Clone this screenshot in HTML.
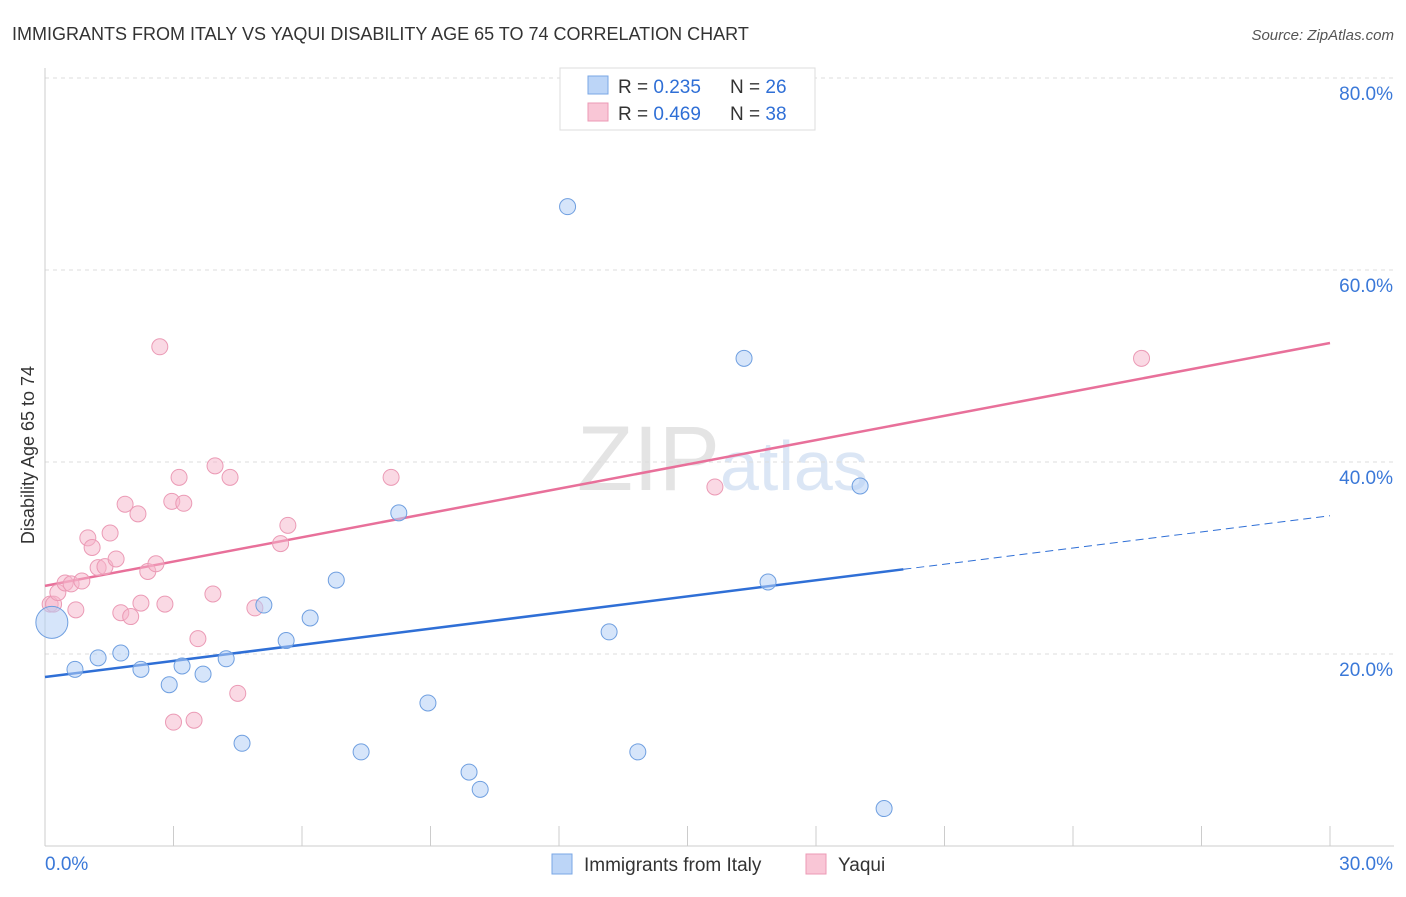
<!DOCTYPE html>
<html><head><meta charset="utf-8"><style>
body{margin:0;background:#fff;font-family:"Liberation Sans",sans-serif}
svg text{font-family:"Liberation Sans",sans-serif}
</style></head><body>
<svg width="1406" height="892" id="chart">
<text x="12" y="40" font-size="18" fill="#333">IMMIGRANTS FROM ITALY VS YAQUI DISABILITY AGE 65 TO 74 CORRELATION CHART</text>
<text x="1394" y="40" font-size="15" fill="#555" font-style="italic" text-anchor="end">Source: ZipAtlas.com</text>
<text x="720" y="490" font-size="92" fill="#e4e4e4" text-anchor="end" font-family="Liberation Serif">ZIP</text>
<text x="720" y="490" font-size="70" fill="#dbe6f5">atlas</text>
<text transform="translate(34,455) rotate(-90)" font-size="18" fill="#333" text-anchor="middle">Disability Age 65 to 74</text>
<g id="grid"></g><g id="ticks"></g><g id="lines"></g><g id="pts"></g>
<g>
<rect x="560" y="68" width="255" height="62" fill="#fff" stroke="#ddd"/>
<rect x="588" y="76" width="20" height="18" fill="#bcd5f7" stroke="#7aa7e6"/>
<rect x="588" y="103" width="20" height="18" fill="#f9c6d6" stroke="#ec9ab5"/>
<text x="618" y="93" font-size="19" fill="#333">R = <tspan fill="#2f6fd6">0.235</tspan><tspan x="730">N = </tspan><tspan fill="#2f6fd6">26</tspan></text>
<text x="618" y="120" font-size="19" fill="#333">R = <tspan fill="#2f6fd6">0.469</tspan><tspan x="730">N = </tspan><tspan fill="#2f6fd6">38</tspan></text>
</g>
<g>
<rect x="552" y="854" width="20" height="20" fill="#bcd5f7" stroke="#7aa7e6"/>
<text x="584" y="871" font-size="19" fill="#333">Immigrants from Italy</text>
<rect x="806" y="854" width="20" height="20" fill="#f9c6d6" stroke="#ec9ab5"/>
<text x="838" y="871" font-size="19" fill="#333">Yaqui</text>
</g>
</svg>
<script>
const blueX=[0.16,0.7,1.24,1.77,2.24,2.9,3.2,3.69,4.23,4.6,5.11,5.63,6.19,6.8,7.38,8.26,8.94,9.9,10.16,12.2,13.17,13.84,16.32,16.88,19.03,19.59];
const blueY=[23.3,18.4,19.6,20.1,18.4,16.8,18.75,17.9,19.5,10.7,25.1,21.4,23.75,27.7,9.8,34.7,14.9,7.7,5.9,66.6,22.3,9.8,50.8,27.5,37.5,3.9];
const pinkX=[0.12,0.2,0.3,0.47,0.61,0.72,0.86,1.0,1.1,1.24,1.4,1.52,1.66,1.77,1.87,2.0,2.17,2.24,2.4,2.59,2.68,2.8,2.96,3.0,3.13,3.24,3.48,3.57,3.92,3.97,4.32,4.5,4.9,5.5,5.67,8.08,15.64,25.6];
const pinkY=[25.2,25.2,26.4,27.4,27.3,24.6,27.6,32.1,31.1,29.0,29.1,32.6,29.9,24.3,35.6,23.9,34.6,25.3,28.6,29.4,52.0,25.2,35.9,12.9,38.4,35.7,13.1,21.6,26.25,39.6,38.4,15.9,24.8,31.5,33.4,38.4,37.4,50.8];
const blueTrend=[17.6,34.4];const blueSolidEnd=20.04;
const pinkTrend=[27.1,52.4];
const yTicks=[20,40,60,80];const yTickLabels=["20.0%","40.0%","60.0%","80.0%"];
const xTicks=[0,3,6,9,12,15,18,21,24,27,30];
const NS="http://www.w3.org/2000/svg";
const X=v=>45+v/30*1285, Y=v=>846-v*9.6;
function mk(t,a,p){const e=document.createElementNS(NS,t);for(const k in a)e.setAttribute(k,a[k]);document.getElementById(p).appendChild(e);return e;}
yTicks.forEach((t,i)=>{let l=mk('line',{x1:45,x2:1394,y1:Y(t),y2:Y(t),stroke:'#ddd','stroke-dasharray':'4,4'},'grid');


let tx=mk('text',{x:1393,y:Y(t)+22,'font-size':19,fill:'#3a78d8','text-anchor':'end'},'grid');tx.textContent=yTickLabels[i];

});
let ax=mk('line',{x1:45,x2:1394,y1:846,y2:846,stroke:'#ccc'},'ticks');


let ay=mk('line',{x1:45,x2:45,y1:68,y2:846,stroke:'#ccc'},'ticks');


xTicks.forEach(t=>{let l=mk('line',{x1:X(t),x2:X(t),y1:826,y2:846,stroke:'#ccc'},'ticks');

});
let x0=mk('text',{x:45,y:870,'font-size':19,fill:'#3a78d8'},'ticks');x0.textContent='0.0%';


let x1=mk('text',{x:1393,y:870,'font-size':19,fill:'#3a78d8','text-anchor':'end'},'ticks');x1.textContent='30.0%';


const bAt=x=>blueTrend[0]+(blueTrend[1]-blueTrend[0])*x/30, pAt=x=>pinkTrend[0]+(pinkTrend[1]-pinkTrend[0])*x/30;
let pt=mk('line',{x1:X(0),y1:Y(pAt(0)),x2:X(30),y2:Y(pAt(30)),stroke:'#e8709a','stroke-width':2.5},'lines');


let bt=mk('line',{x1:X(0),y1:Y(bAt(0)),x2:X(blueSolidEnd),y2:Y(bAt(blueSolidEnd)),stroke:'#2f6fd6','stroke-width':2.5},'lines');


let bd=mk('line',{x1:X(blueSolidEnd),y1:Y(bAt(blueSolidEnd)),x2:X(30),y2:Y(bAt(30)),stroke:'#2f6fd6','stroke-width':1,'stroke-dasharray':'8,5'},'lines');


pinkX.forEach((x,i)=>{let c=mk('circle',{cx:X(x),cy:Y(pinkY[i]),r:8,fill:'rgba(246,180,202,0.5)',stroke:'#eb9ab5','stroke-width':1},'pts');

});
blueX.forEach((x,i)=>{let c=mk('circle',{cx:X(x),cy:Y(blueY[i]),r:i==0?16:8,fill:'rgba(180,208,246,0.55)',stroke:'#6f9fe0','stroke-width':1},'pts');

});
</script>
</body></html>
